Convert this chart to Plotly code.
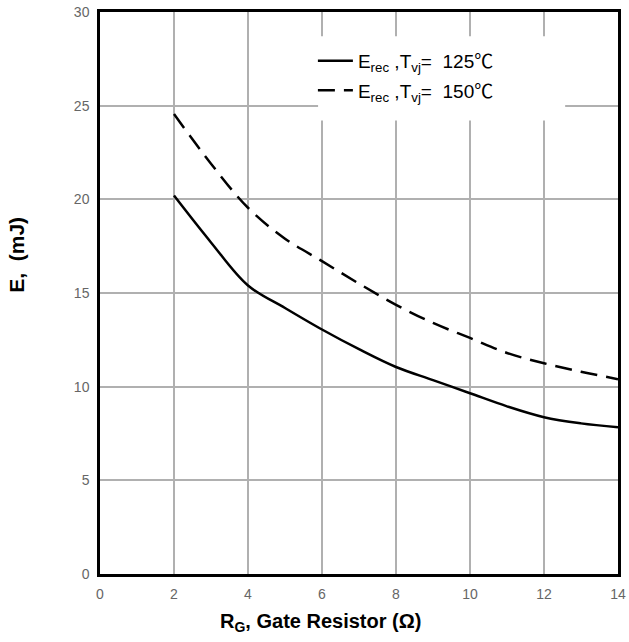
import plotly.graph_objects as go

rg = [2, 3, 4, 5, 6, 7, 8, 9, 10, 11, 12, 13, 14]
erec_125 = [20.2, 17.7, 15.4, 14.2, 13.05, 12.0, 11.05, 10.35, 9.65, 8.95, 8.37, 8.04, 7.83]
erec_150 = [24.55, 21.9, 19.55, 17.9, 16.7, 15.5, 14.37, 13.4, 12.6, 11.8, 11.25, 10.8, 10.4]

x_ticks = [0, 2, 4, 6, 8, 10, 12, 14]
y_ticks = [0, 5, 10, 15, 20, 25, 30]

FONT = "Liberation Sans, Arial"
DEG = '<span style="font-family:Noto Sans CJK SC">℃</span>'

fig = go.Figure()
fig.add_trace(go.Scatter(
    x=rg, y=erec_125, mode="lines", legendgroup="a",
    line=dict(color="black", width=2.5, shape="spline"),
    name="E<sub>rec</sub> ,T<sub>vj</sub>=&nbsp; 125" + DEG))
fig.add_trace(go.Scatter(
    x=rg, y=erec_150, mode="lines", legendgroup="b",
    line=dict(color="black", width=2.5, dash="17px,9px", shape="spline"),
    name="E<sub>rec</sub> ,T<sub>vj</sub>=&nbsp; 150" + DEG))

axis_common = dict(
    showgrid=True, gridcolor="#b0b0b0", gridwidth=1.5,
    showline=True, linecolor="black", linewidth=2.5, mirror=True,
    zeroline=False, ticks="", automargin=False, ticklabeloverflow="allow",
    tickfont=dict(family=FONT, size=14, color="#666666"),
)

fig.update_xaxes(range=[0, 14], tickvals=x_ticks, ticklabelstandoff=5, **axis_common)
fig.update_yaxes(range=[0, 30], tickvals=y_ticks, ticklabelstandoff=5, **axis_common)

# white backdrop for the legend region (hides gridlines, like the reference)
fig.add_shape(type="rect", xref="paper", yref="paper",
              x0=0.421, x1=0.898, y0=0.807, y1=0.957,
              fillcolor="white", line=dict(width=0), layer="above")

fig.add_annotation(text="<b>R<sub>G</sub>, Gate Resistor (Ω)</b>",
                   xref="paper", yref="paper", x=0.425, y=0, xanchor="center", yanchor="middle",
                   yshift=-48, showarrow=False,
                   font=dict(family=FONT, size=20, color="black"))
fig.add_annotation(text="<b>E,  (mJ)</b>",
                   xref="paper", yref="paper", x=0, y=0.568, xanchor="center", yanchor="middle",
                   xshift=-83, textangle=-90, showarrow=False,
                   font=dict(family=FONT, size=21, color="black"))

fig.update_layout(
    width=629, height=642,
    margin=dict(l=100, r=11, t=12, b=68),
    paper_bgcolor="white", plot_bgcolor="white",
    showlegend=True,
    legend=dict(x=0.411, y=0.947, xanchor="left", yanchor="top",
                bgcolor="rgba(0,0,0,0)", borderwidth=0,
                font=dict(family=FONT, size=19, color="black"),
                tracegroupgap=2, itemwidth=35),
)

# remove the page's default 8px body margin so the figure sits at the window origin
fig.write_html("out.html", config={"displayModeBar": False},
               post_script="document.body.style.margin='0';")
